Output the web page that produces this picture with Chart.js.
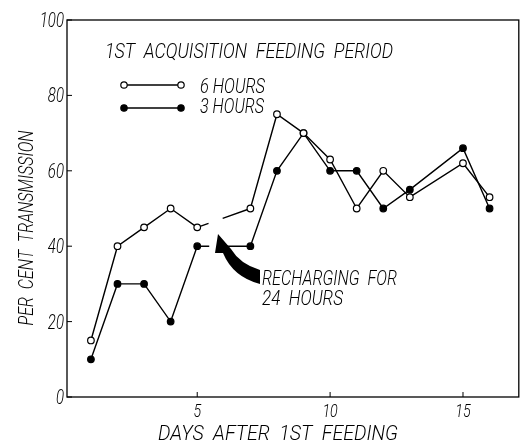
<!DOCTYPE html>
<html lang="en">

<head>
    <meta charset="UTF-8">
    <title>Per cent transmission</title>
    <script src="https://cdn.jsdelivr.net/npm/chart.js"></script>
    <style>
        body { margin: 0; background: #fff; }
    </style>
</head>

<body>
    <canvas id="chart" width="524" height="442"></canvas>

    <script>
        // days after 1st feeding (no reading on day 6 and 14)
        var days6h = [1, 2, 3, 4, 5, 7, 8, 9, 10, 11, 12, 13, 15, 16];
        var trans6h = [15, 40, 45, 50, 45, 50, 75, 70, 63, 50, 60, 53, 62, 53];
        var days3h = [1, 2, 3, 4, 5, 7, 8, 9, 10, 11, 12, 13, 15, 16];
        var trans3h = [10, 30, 30, 20, 40, 40, 60, 70, 60, 60, 50, 55, 66, 50];
        var xTicks = [5, 10, 15];
        var yTicks = [0, 20, 40, 60, 80, 100];

        var FONT = 'Roboto, "Liberation Sans", sans-serif';

        function toPoints(xs, ys) {
            return xs.map(function (x, i) { return { x: x, y: ys[i] }; });
        }

        // lettering in the original is tall, thin and narrow: squeeze text horizontally
        function txt(c, s, x, y, size, sx, align) {
            c.save();
            c.font = 'italic 300 ' + size + 'px ' + FONT;
            c.textAlign = align || 'left';
            c.textBaseline = 'alphabetic';
            c.translate(x, y);
            c.scale(sx, 1);
            c.fillText(s, 0, 0);
            c.restore();
        }
        // same, but fit to a given width
        function fitTxt(c, s, x, y, size, w, align) {
            c.save();
            c.font = 'italic 300 ' + size + 'px ' + FONT;
            var sx = w / c.measureText(s).width;
            c.restore();
            txt(c, s, x, y, size, sx, align);
        }

        // the recharging gap between day 5 and day 7 is drawn broken
        var gapDash = function (ctx) {
            return ctx.p0.parsed.x === 5 ? [12, 15, 60] : undefined;
        };

        var decor = {
            id: 'decor',
            afterDraw: function (chart) {
                var c = chart.ctx, a = chart.chartArea;
                var xs = chart.scales.x, ys = chart.scales.y;
                c.save();
                c.strokeStyle = '#000';
                c.fillStyle = '#000';
                c.lineWidth = 1.3;
                c.strokeRect(a.left, a.top, a.right - a.left, a.bottom - a.top);

                // inward tick marks
                c.lineWidth = 1;
                c.beginPath();
                yTicks.forEach(function (v) {
                    var y = ys.getPixelForValue(v);
                    c.moveTo(a.left, y); c.lineTo(a.left + 5, y);
                });
                xTicks.forEach(function (v) {
                    var x = xs.getPixelForValue(v);
                    c.moveTo(x, a.bottom); c.lineTo(x, a.bottom - 5);
                });
                c.stroke();

                // tick labels
                yTicks.forEach(function (v) {
                    txt(c, String(v), a.left - 3, ys.getPixelForValue(v) + 7, 20, 0.75, 'right');
                });
                xTicks.forEach(function (v) {
                    txt(c, String(v), xs.getPixelForValue(v), a.bottom + 20, 19, 0.75, 'center');
                });

                // axis titles
                fitTxt(c, 'DAYS  AFTER  1ST  FEEDING', 278, 440, 21, 240, 'center');
                c.save();
                c.translate(33, 228);
                c.rotate(-Math.PI / 2);
                fitTxt(c, 'PER  CENT  TRANSMISSION', 0, 0, 21, 195, 'center');
                c.restore();

                // heading and legend
                fitTxt(c, '1ST  ACQUISITION  FEEDING  PERIOD', 105, 58, 21, 288);
                fitTxt(c, '6 HOURS', 200, 93, 20, 65);
                fitTxt(c, '3 HOURS', 200, 113, 20, 64);

                [[85, false], [108, true]].forEach(function (s) {
                    c.beginPath();
                    c.lineWidth = 1.4;
                    c.moveTo(124, s[0]); c.lineTo(181, s[0]);
                    c.stroke();
                    [124, 181].forEach(function (x) {
                        c.beginPath();
                        c.arc(x, s[0], 3.2, 0, Math.PI * 2);
                        c.fillStyle = s[1] ? '#000' : '#fff';
                        c.fill();
                        c.lineWidth = 1.2;
                        c.stroke();
                    });
                });

                // annotation
                c.fillStyle = '#000';
                fitTxt(c, 'RECHARGING  FOR', 262, 285, 21, 135);
                fitTxt(c, '24  HOURS', 262, 305, 21, 81);

                c.beginPath();
                c.moveTo(218, 234);
                c.lineTo(231, 249);
                c.quadraticCurveTo(240, 264, 260, 270);
                c.lineTo(260, 284);
                c.quadraticCurveTo(233, 277, 223, 253);
                c.lineTo(215, 253);
                c.closePath();
                c.fill();
                c.restore();
            }
        };

        var chart = new Chart(document.getElementById('chart').getContext('2d'), {
            type: 'line',
            data: {
                datasets: [{
                    label: '6 HOURS',
                    data: toPoints(days6h, trans6h),
                    borderColor: '#000',
                    borderWidth: 1.4,
                    pointBackgroundColor: '#fff',
                    pointBorderColor: '#000',
                    pointBorderWidth: 1.2,
                    pointRadius: 3.3,
                    tension: 0,
                    segment: { borderDash: gapDash }
                }, {
                    label: '3 HOURS',
                    data: toPoints(days3h, trans3h),
                    borderColor: '#000',
                    borderWidth: 1.4,
                    pointBackgroundColor: '#000',
                    pointBorderColor: '#000',
                    pointBorderWidth: 1.2,
                    pointRadius: 3.3,
                    tension: 0,
                    segment: { borderDash: gapDash }
                }]
            },
            options: {
                responsive: false,
                animation: false,
                layout: { padding: { top: 20, right: 3, left: 0, bottom: 0 } },
                plugins: { legend: { display: false }, tooltip: { enabled: false } },
                scales: {
                    x: {
                        type: 'linear',
                        min: 0.1,
                        max: 17.1,
                        afterBuildTicks: function (s) { s.ticks = xTicks.map(function (v) { return { value: v }; }); },
                        afterFit: function (s) { s.height = 45; },
                        grid: { display: false },
                        border: { display: false },
                        ticks: { display: false }
                    },
                    y: {
                        min: 0,
                        max: 100,
                        afterBuildTicks: function (s) { s.ticks = yTicks.map(function (v) { return { value: v }; }); },
                        afterFit: function (s) { s.width = 67; },
                        grid: { display: false },
                        border: { display: false },
                        ticks: { display: false }
                    }
                }
            },
            plugins: [decor]
        });
    </script>
</body>

</html>
